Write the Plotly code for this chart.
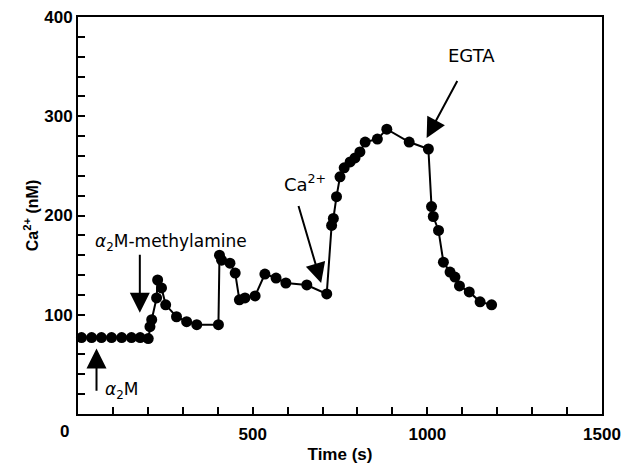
import plotly.graph_objects as go

time_s = [10, 39, 67, 96, 125, 153, 178, 201, 206, 211, 225, 228, 239, 251, 282, 311, 340,
          402, 405, 411, 435, 450, 462, 478, 507, 535, 567, 595, 655, 712,
          726, 731, 740, 750, 762, 779, 793, 807, 822, 857, 884, 948, 1003,
          1012, 1017, 1032, 1046, 1065, 1079, 1092, 1120, 1151, 1184]
ca_nM = [77, 77, 77, 77, 77, 77, 77, 76, 88, 95, 117, 135, 127, 110, 98, 93, 90,
         90, 160, 155, 152, 142, 115, 117, 119, 141, 137, 132, 130, 121,
         190, 197, 219, 239, 248, 254, 258, 264, 274, 277, 287, 274, 267,
         209, 199, 185, 153, 143, 138, 129, 123, 113, 110]

x_labels = [500, 1000, 1500]
y_labels = [100, 200, 300, 400]
x_tick_pos = list(range(0, 1501, 100))
y_tick_pos = list(range(0, 401, 20))
x_tick_text = [str(v) if v in x_labels else "" for v in x_tick_pos]
y_tick_text = [str(v) if v in y_labels else "" for v in y_tick_pos]

fig = go.Figure()
fig.add_trace(go.Scatter(
    x=time_s, y=ca_nM, mode="lines+markers",
    line=dict(color="black", width=2),
    marker=dict(color="black", size=11),
    showlegend=False, cliponaxis=False,
))

bold = dict(family="Liberation Sans", size=17, color="black", weight="bold")
reg = dict(family="DejaVu Sans", size=17, color="black")
reg_big = dict(family="DejaVu Sans", size=18, color="black")

fig.update_layout(
    width=626, height=464,
    margin=dict(l=78, r=24, t=17, b=50),
    paper_bgcolor="white", plot_bgcolor="white",
    xaxis=dict(
        range=[0, 1500], tickmode="array", tickvals=x_tick_pos, ticktext=x_tick_text,
        ticks="inside", ticklen=7, tickwidth=2, automargin=False,
        tickcolor="black", showline=True, linecolor="black", linewidth=2, mirror=True,
        showgrid=False, zeroline=False, tickfont=bold, ticklabelstandoff=4,
        title=dict(text="Time (s)", font=dict(family="Liberation Sans", size=17, color="black", weight="bold"), standoff=8),
    ),
    yaxis=dict(
        range=[0, 400], tickmode="array", tickvals=y_tick_pos, ticktext=y_tick_text,
        ticks="inside", ticklen=7, tickwidth=2, automargin=False,
        tickcolor="black", showline=True, linecolor="black", linewidth=2, mirror=True,
        showgrid=False, zeroline=False, tickfont=bold, ticksuffix="  ",
        title=dict(text="Ca<sup>2+</sup> (nM)", font=dict(family="Liberation Sans", size=16, color="black", weight="bold"), standoff=2),
    ),
)

ann = []
# corner zero label
ann.append(dict(text="0", xref="paper", yref="paper", x=-0.025, y=-0.043,
                showarrow=False, font=bold, xanchor="center", yanchor="middle"))
# text labels
ann.append(dict(text="<i>α</i><sub>2</sub>M-methylamine", x=43, y=173, xref="x", yref="y",
                showarrow=False, font=reg, xanchor="left", yanchor="middle"))
ann.append(dict(text="<i>α</i><sub>2</sub>M", x=71, y=24, xref="x", yref="y",
                showarrow=False, font=reg, xanchor="left", yanchor="middle"))
ann.append(dict(text="Ca<sup>2+</sup>", x=584, y=233, xref="x", yref="y",
                showarrow=False, font=reg_big, xanchor="left", yanchor="middle"))
ann.append(dict(text="EGTA", x=1052, y=361, xref="x", yref="y",
                showarrow=False, font=reg_big, xanchor="left", yanchor="middle"))
# arrows (tip at x,y; tail at ax,ay)
for tip, tail in [((177, 102), (177, 162)),
                  ((53, 66), (53, 22)),
                  ((696, 132), (630, 211)),
                  ((998, 278), (1088, 337))]:
    ann.append(dict(text="", x=tip[0], y=tip[1], ax=tail[0], ay=tail[1],
                    xref="x", yref="y", axref="x", ayref="y",
                    showarrow=True, arrowhead=2, arrowsize=2, arrowwidth=2,
                    arrowcolor="black", standoff=0))
fig.update_layout(annotations=ann)

fig.write_html("out.html")
